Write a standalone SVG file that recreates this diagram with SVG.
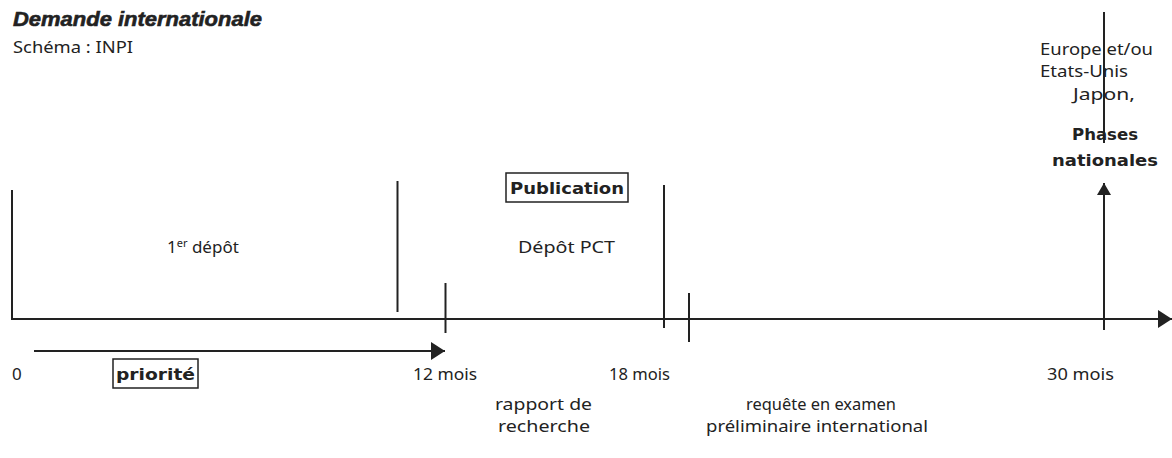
<svg xmlns="http://www.w3.org/2000/svg" width="1172" height="458" viewBox="0 0 1172 458">
<style>
.t{font-family:"Noto Sans","Liberation Sans",sans-serif;font-size:17px;fill:#222}
.b{font-family:"DejaVu Sans","Liberation Sans",sans-serif;font-weight:bold;font-size:16px;fill:#222}
.ttl{font-family:"Liberation Sans",sans-serif;font-weight:bold;font-style:italic;font-size:21px;fill:#222;stroke:#222;stroke-width:0.6}
.ln{stroke:#222;stroke-width:2;fill:none}
.box{stroke:#222;stroke-width:1.5;fill:none}
</style>
<defs>
<marker id="ah" viewBox="0 0 12 14" refX="12" refY="7" markerWidth="12" markerHeight="14" markerUnits="userSpaceOnUse" orient="auto">
<path d="M0,0 L12,7 L0,14 Z" fill="#222"/>
</marker>
<marker id="ah2" viewBox="0 0 14 18" refX="14" refY="9" markerWidth="14" markerHeight="18" markerUnits="userSpaceOnUse" orient="auto">
<path d="M0,0 L14,9 L0,18 Z" fill="#222"/>
</marker>
</defs>
<rect width="1172" height="458" fill="#fff"/>
<g id="title"><text class="ttl" x="13" y="26" textLength="249" lengthAdjust="spacingAndGlyphs">Demande internationale</text></g>
<g id="source"><text class="t" x="13" y="53" textLength="120" lengthAdjust="spacingAndGlyphs">Schéma : INPI</text></g>
<g id="connectors">
<line class="ln" x1="12" y1="319" x2="1172" y2="319" marker-end="url(#ah2)"/>
<line class="ln" x1="12" y1="190" x2="12" y2="320"/>
<line class="ln" x1="397.5" y1="181" x2="397.5" y2="312"/>
<line class="ln" x1="445.5" y1="283" x2="445.5" y2="333"/>
<line class="ln" x1="664" y1="185" x2="664" y2="328"/>
<line class="ln" x1="689" y1="293" x2="689" y2="342"/>
<line class="ln" x1="1104" y1="12" x2="1104" y2="143"/>
<line class="ln" x1="1104" y1="330" x2="1104" y2="183" marker-end="url(#ah)"/>
<line class="ln" x1="34" y1="351" x2="445" y2="351" marker-end="url(#ah2)"/>
</g>
<g id="premier-depot"><text class="t" x="167" y="253">1<tspan font-size="11" dy="-6">er</tspan><tspan dy="6"> dépôt</tspan></text></g>
<g id="depot-pct"><text class="t" x="518" y="253" textLength="97" lengthAdjust="spacingAndGlyphs">Dépôt PCT</text></g>
<g id="publication"><rect class="box" x="506" y="173" width="122" height="29"/><text class="b" x="510" y="194" textLength="114" lengthAdjust="spacingAndGlyphs">Publication</text></g>
<g id="m0"><text class="t" x="12" y="380">0</text></g>
<g id="priorite"><rect class="box" x="113" y="359" width="85" height="29"/><text class="b" x="116" y="380" textLength="79" lengthAdjust="spacingAndGlyphs">priorité</text></g>
<g id="m12"><text class="t" x="413" y="380" textLength="64" lengthAdjust="spacingAndGlyphs">12 mois</text></g>
<g id="m18"><text class="t" x="609" y="380" textLength="61" lengthAdjust="spacingAndGlyphs">18 mois</text></g>
<g id="m30"><text class="t" x="1047" y="380" textLength="67" lengthAdjust="spacingAndGlyphs">30 mois</text></g>
<g id="rapport"><text class="t" x="495" y="410" textLength="97" lengthAdjust="spacingAndGlyphs">rapport de</text><text class="t" x="498" y="432" textLength="92" lengthAdjust="spacingAndGlyphs">recherche</text></g>
<g id="requete"><text class="t" x="746" y="410" textLength="150" lengthAdjust="spacingAndGlyphs">requête en examen</text><text class="t" x="706" y="432" textLength="222" lengthAdjust="spacingAndGlyphs">préliminaire international</text></g>
<g id="phases">
<text class="t" x="1040" y="55" textLength="113" lengthAdjust="spacingAndGlyphs">Europe et/ou</text>
<text class="t" x="1040" y="77" textLength="88" lengthAdjust="spacingAndGlyphs">Etats-Unis</text>
<text class="t" x="1073" y="100" textLength="62" lengthAdjust="spacingAndGlyphs">Japon,</text>
<text class="b" x="1072" y="140" textLength="66" lengthAdjust="spacingAndGlyphs">Phases</text>
<text class="b" x="1052" y="166" textLength="106" lengthAdjust="spacingAndGlyphs">nationales</text>
</g>
</svg>
